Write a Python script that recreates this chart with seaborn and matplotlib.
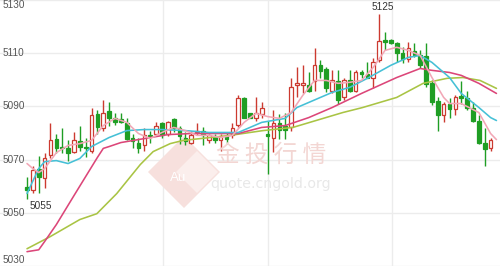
import matplotlib
matplotlib.use("Agg")
import matplotlib.pyplot as plt
import seaborn as sns
import numpy as np
import pandas as pd
from matplotlib.patches import Polygon

# ---- candle data ----
opens = [5059.8, 5058.7, 5066.6, 5063.2, 5071.9, 5077.9, 5074.9, 5074.5, 5073.0, 5076.8,
         5074.9, 5073.4, 5087.0, 5081.7, 5088.1, 5085.8, 5085.1, 5083.6, 5078.3, 5076.4,
         5075.3, 5079.4, 5079.8, 5083.6, 5079.8, 5085.1, 5081.7, 5078.3, 5076.4, 5080.2,
         5080.9, 5077.5, 5078.7, 5077.5, 5078.7, 5079.1, 5083.2, 5093.0, 5087.4, 5085.8,
         5087.0, 5079.8, 5078.3, 5083.6, 5082.5, 5082.1, 5097.9, 5097.9, 5097.9, 5099.4,
         5105.8, 5104.0, 5095.7, 5099.4, 5093.4, 5099.8, 5096.0, 5102.8, 5102.1, 5100.9,
         5107.4, 5114.9, 5114.9, 5113.8, 5110.0, 5107.7, 5110.8, 5109.2, 5108.9, 5098.7,
         5091.9, 5086.6, 5090.8, 5089.2, 5093.8, 5093.0, 5089.6, 5084.7, 5076.4, 5074.5]
highs = [5063.6, 5067.4, 5071.5, 5072.3, 5083.6, 5079.8, 5081.7, 5077.2, 5080.2, 5082.8,
         5078.3, 5089.6, 5088.5, 5092.6, 5091.5, 5087.4, 5087.4, 5085.8, 5079.8, 5078.3,
         5081.7, 5080.9, 5084.0, 5084.0, 5084.7, 5085.8, 5082.8, 5080.2, 5080.9, 5083.6,
         5082.1, 5079.8, 5079.8, 5079.8, 5080.2, 5083.6, 5094.2, 5093.4, 5087.7, 5093.4,
         5091.5, 5084.7, 5088.5, 5087.0, 5087.4, 5100.6, 5104.7, 5105.5, 5102.8, 5111.9,
         5107.4, 5104.7, 5103.6, 5103.6, 5100.6, 5103.6, 5103.6, 5103.6, 5106.6, 5108.1,
         5125.0, 5117.9, 5115.3, 5114.2, 5112.3, 5114.2, 5113.8, 5111.1, 5113.8, 5099.8,
         5093.4, 5091.5, 5093.0, 5094.2, 5099.4, 5096.0, 5091.5, 5086.6, 5081.7, 5078.3]
lows = [5055.0, 5057.5, 5057.5, 5059.4, 5070.4, 5072.3, 5072.3, 5069.6, 5072.3, 5073.4,
        5070.8, 5072.6, 5079.8, 5080.9, 5082.8, 5083.2, 5083.6, 5077.2, 5074.5, 5072.3,
        5073.4, 5076.4, 5079.1, 5078.3, 5078.7, 5080.2, 5076.0, 5075.3, 5076.0, 5079.1,
        5075.3, 5076.4, 5076.4, 5073.4, 5076.0, 5078.3, 5082.1, 5085.5, 5085.5, 5084.7,
        5085.8, 5064.7, 5073.0, 5077.9, 5077.9, 5080.9, 5093.4, 5094.9, 5095.3, 5096.0,
        5100.9, 5095.3, 5094.9, 5091.1, 5092.6, 5095.3, 5095.3, 5100.9, 5100.6, 5096.8,
        5106.6, 5111.1, 5113.4, 5106.6, 5106.2, 5106.6, 5108.5, 5104.3, 5097.2, 5090.4,
        5080.9, 5084.0, 5085.8, 5086.6, 5091.1, 5088.5, 5084.0, 5076.0, 5067.4, 5073.4]
closes = [5058.7, 5066.2, 5063.6, 5070.4, 5077.2, 5074.5, 5074.2, 5072.6, 5077.2, 5074.9,
          5074.2, 5086.6, 5082.1, 5087.7, 5085.8, 5084.0, 5084.3, 5077.9, 5076.8, 5074.2,
          5079.1, 5078.7, 5082.8, 5079.1, 5084.0, 5081.7, 5078.7, 5076.8, 5079.1, 5080.9,
          5079.1, 5079.1, 5077.5, 5078.7, 5077.9, 5081.7, 5093.0, 5085.8, 5085.8, 5087.7,
          5089.6, 5078.7, 5083.6, 5081.3, 5081.3, 5097.5, 5098.7, 5098.7, 5095.7, 5105.8,
          5103.2, 5096.8, 5099.8, 5092.3, 5099.8, 5095.7, 5102.8, 5102.1, 5100.9, 5106.6,
          5114.5, 5114.2, 5113.8, 5110.0, 5107.7, 5111.9, 5109.2, 5105.8, 5098.3, 5091.5,
          5086.6, 5090.8, 5089.2, 5093.4, 5093.0, 5089.6, 5084.7, 5076.4, 5073.8, 5077.5]

# ---- moving-average lines ----
ma5_idx = [0, 1, 2, 3, 4, 5, 7, 9, 11, 13, 15, 17, 19, 21, 23, 25, 27, 29, 31, 33, 35, 37,
           39, 41, 43, 45, 47, 49, 51, 53, 55, 57, 59, 61, 63, 65, 67, 69, 71, 72, 74, 77, 79, 80]
ma5_val = [5068.5, 5066.6, 5065.1, 5066.6, 5069.6, 5072.6, 5075.3, 5076.0, 5077.2, 5082.8,
           5085.5, 5084.0, 5079.8, 5077.9, 5080.2, 5082.1, 5080.9, 5079.1, 5079.1, 5078.3,
           5079.1, 5084.0, 5087.4, 5086.2, 5085.5, 5087.7, 5094.2, 5099.8, 5099.8, 5098.7,
           5099.1, 5099.8, 5104.7, 5111.1, 5112.3, 5111.1, 5109.2, 5100.9, 5093.4, 5091.1,
           5091.1, 5087.7, 5079.8, 5077.5]
ma10_idx = [0, 2, 3, 5, 7, 9, 11, 14, 17, 20, 23, 27, 31, 36, 40, 44, 46, 50, 52, 55, 58,
            62, 65, 67, 69, 72, 74, 77, 79, 80]
ma10_val = [5057.2, 5066.6, 5069.2, 5069.6, 5068.5, 5070.4, 5074.9, 5078.3, 5080.9, 5081.3,
            5081.3, 5080.9, 5080.2, 5080.2, 5084.0, 5085.5, 5089.6, 5093.4, 5095.3, 5097.2,
            5100.6, 5105.5, 5108.5, 5109.2, 5106.6, 5100.9, 5094.9, 5089.6, 5085.8, 5084.7]
ma20_idx = [0, 2, 3, 5, 8, 10, 12, 13, 14, 16, 20, 24, 28, 36, 40, 44, 48, 52, 57, 63, 67,
            69, 72, 74, 77, 80]
ma20_val = [5035.3, 5036.0, 5039.1, 5045.5, 5056.4, 5063.6, 5070.8, 5074.2, 5074.9, 5076.4,
            5077.9, 5079.4, 5079.8, 5079.8, 5082.1, 5082.8, 5085.8, 5089.6, 5094.9, 5100.9,
            5104.3, 5103.6, 5102.8, 5101.7, 5098.7, 5094.9]
ma40_idx = [0, 3.9, 9, 11.9, 15.3, 19.3, 21.5, 24.4, 26.6, 34.6, 40.2, 45.3, 53.8, 57.2, 63,
            67.5, 71.6, 74.3, 77.2, 80]
ma40_val = [5036.4, 5040.9, 5047.4, 5049.6, 5057.2, 5068.1, 5073.0, 5076.0, 5077.2, 5079.1,
            5080.9, 5082.1, 5087.7, 5089.6, 5093.4, 5098.7, 5100.6, 5100.9, 5099.8, 5096.8]

y_ticks = [5130, 5110, 5090, 5070, 5050, 5030]
v_grid = [23.2, 41.0, 62.2]
high_label = "5125"
low_label = "5055"

W, H = 500, 266
UP = "#cc3a30"
DOWN = "#1f9e24"

sns.set_style("white")
plt.rcParams['font.family'] = ['Liberation Sans', 'DejaVu Sans']

fig = plt.figure(figsize=(W / 100, H / 100), dpi=100)
ax = fig.add_axes([0, 0, 1, 1])
ax.set_xlim(-4.6, 80.6)
ax.set_ylim(5029.9, 5130.1)
for s in ax.spines.values():
    s.set_visible(False)

# grid
for t in y_ticks:
    ax.axhline(t, color="#ececec", lw=1.0, zorder=0)
for g in v_grid:
    ax.axvline(g, color="#ececec", lw=1.0, zorder=0)

# watermark
def fx(px):
    return px / W

def fy(py):
    return 1 - py / H

diamond = Polygon([(fx(184), fy(136)), (fx(220), fy(172)), (fx(184), fy(208)), (fx(148), fy(172))],
                  closed=True, transform=fig.transFigure, facecolor="#f7e0dd",
                  edgecolor="none", zorder=0.5)
ax.add_patch(diamond)
inner = Polygon([(fx(197), fy(151)), (fx(218), fy(172)), (fx(197), fy(193)), (fx(176), fy(172))],
                closed=True, transform=fig.transFigure, facecolor="#fbeeec",
                edgecolor="none", zorder=0.6)
ax.add_patch(inner)
fig.text(fx(178), fy(178), "Au", color="white", fontsize=9.5, ha="center", va="center",
         zorder=0.7)
fig.text(fx(271), fy(155), "金 投 行 情", color="#f3d6d3", fontsize=17, ha="center", va="center",
         family=["Noto Sans CJK SC", "DejaVu Sans"], zorder=0.7)
fig.text(fx(271), fy(184), "quote.cngold.org", color="#e8e8e8", fontsize=10.2,
         ha="center", va="center", family=["DejaVu Sans"], zorder=0.7)

# candles
idx = np.arange(len(opens))
o = np.array(opens); c = np.array(closes); h = np.array(highs); l = np.array(lows)
up = c >= o
cols = np.where(up, UP, DOWN)
ax.vlines(idx, l, h, colors=cols, lw=1.0, zorder=2)
body_bot = np.minimum(o, c)
body_h = np.maximum(np.abs(c - o), 0.45)
ax.bar(idx[up], body_h[up], bottom=body_bot[up], width=0.62, facecolor="white",
       edgecolor=UP, linewidth=0.9, zorder=3)
ax.bar(idx[~up], body_h[~up], bottom=body_bot[~up], width=0.62, facecolor=DOWN,
       edgecolor=DOWN, linewidth=0.9, zorder=3)

# moving averages
ma_df = pd.concat([
    pd.DataFrame({"i": ma40_idx, "v": ma40_val, "ma": "MA40"}),
    pd.DataFrame({"i": ma20_idx, "v": ma20_val, "ma": "MA20"}),
    pd.DataFrame({"i": ma10_idx, "v": ma10_val, "ma": "MA10"}),
    pd.DataFrame({"i": ma5_idx, "v": ma5_val, "ma": "MA5"}),
])
palette = {"MA5": "#f2a7b6", "MA10": "#45c0d6", "MA20": "#dc4679", "MA40": "#a9c444"}
sns.lineplot(data=ma_df, x="i", y="v", hue="ma", palette=palette, ax=ax, lw=1.15,
             legend=False, sort=True, estimator=None, zorder=4)
ax.set_xlabel(""); ax.set_ylabel("")
ax.set_xticks([]); ax.set_yticks([])

# y labels inside
lab_kw = dict(transform=ax.get_yaxis_transform(), color="#555555", fontsize=7.2, ha="left")
for t in y_ticks:
    if t == 5130:
        ax.text(0.006, 5128.2, str(t), va="center", **lab_kw)
    elif t == 5030:
        ax.text(0.006, 5032.3, str(t), va="center", **lab_kw)
    else:
        ax.text(0.006, t, str(t), va="center", **lab_kw)

# annotations
ax.text(60.6, 5125.4, high_label, color="#333333", fontsize=7.2, ha="center", va="bottom")
ax.text(0.5, 5054.4, low_label, color="#333333", fontsize=7.2, ha="left", va="top")

fig.savefig("out.png", dpi=100)
